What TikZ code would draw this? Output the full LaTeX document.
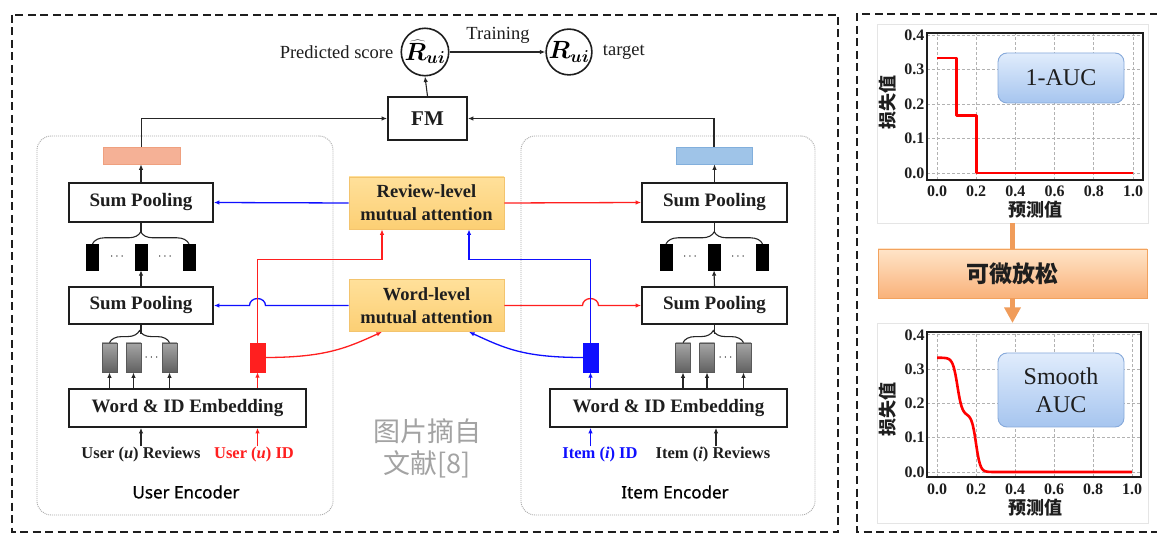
\documentclass[tikz,border=0pt]{standalone}
\usepackage{fontspec}
\setmainfont{Liberation Serif}
\newfontfamily\cjk{Noto Sans CJK SC}
\newfontfamily\labfont[FakeBold=0.7]{Noto Sans}
\usepackage{bm}
\usetikzlibrary{arrows.meta,calc,decorations.pathreplacing}
\definecolor{ured}{HTML}{FF1F1F}
\definecolor{ublue}{HTML}{0F0FFF}
\definecolor{salm}{HTML}{F5B196}
\definecolor{salmD}{HTML}{EFA07F}
\definecolor{lblue}{HTML}{9FC4E8}
\definecolor{lblueD}{HTML}{82AFDC}
\definecolor{attT}{HTML}{FFE09A}
\definecolor{attB}{HTML}{FCCF74}
\definecolor{attD}{HTML}{F3C46E}
\definecolor{orT}{HTML}{FFE4C8}
\definecolor{orB}{HTML}{F9B27A}
\definecolor{orD}{HTML}{F2A25E}
\definecolor{orA}{HTML}{F09C5A}
\definecolor{bxT}{HTML}{E0ECFC}
\definecolor{bxB}{HTML}{A6C5EF}
\definecolor{bxD}{HTML}{86A9DA}
\definecolor{wmgray}{HTML}{A3A3A3}
\definecolor{encgray}{HTML}{ABABAB}
\definecolor{ink}{HTML}{1E1E1E}
\tikzset{
  outerframe/.style={draw=ink, line width=2.2pt, dash pattern=on 8pt off 4.5pt},
  enc/.style={draw=encgray, line width=0.9pt, dash pattern=on 1pt off 1pt, rounded corners=14pt, inner sep=0pt},
  enclab/.style={font=\labfont\fontsize{17}{17}\selectfont, text=black, inner sep=1pt},
  box/.style={draw=ink, line width=1.7pt, fill=white, inner sep=0pt, text=ink, font=\bfseries\fontsize{19}{20}\selectfont},
  att/.style={draw=attD, line width=0.8pt, top color=attT, bottom color=attB, inner sep=0pt, align=center, text=ink, font=\bfseries\fontsize{18.5}{23}\selectfont, minimum width=155pt, minimum height=52pt},
  blk/.style={fill=black, draw=black, inner sep=0pt, minimum width=12pt, minimum height=26pt},
  gry/.style={draw=black!65, line width=0.8pt, top color=black!35, bottom color=black!62, inner sep=0pt, minimum width=15pt, minimum height=29pt},
  ln/.style={draw=black!85, line width=1.1pt},
  arr/.style={ln, -{Latex[length=5.5pt,width=4.5pt]}},
  rarr/.style={arr, draw=ured, line width=1.3pt},
  barr/.style={arr, draw=ublue, line width=1.3pt},
  brc/.style={ln, decorate, decoration={brace, amplitude=12pt}},
  inp/.style={font=\bfseries\fontsize{16.5}{17}\selectfont, inner sep=1pt, text=ink},
  lbl/.style={font=\fontsize{18.5}{19}\selectfont, inner sep=1pt, text=ink},
  dotz/.style={font=\fontsize{13}{13}\selectfont, inner sep=0pt},
  circ/.style={circle, draw=ink, line width=1.6pt, minimum size=45pt, inner sep=0pt, font=\fontsize{23}{23}\selectfont},
  panel/.style={fill=white, draw=black!10, line width=0.6pt, inner sep=0pt},
  grd/.style={draw=black!30, line width=0.7pt, dash pattern=on 3pt off 2pt},
  tk/.style={font=\bfseries\fontsize{16}{16}\selectfont, inner sep=1pt, text=ink},
  cjkl/.style={font=\cjk\bfseries\fontsize{18}{18}\selectfont, text=ink, inner sep=0pt},
  aucbox/.style={top color=bxT, bottom color=bxB, draw=bxD, line width=0.9pt, rounded corners=9pt, align=center, inner sep=0pt, text=ink, font=\fontsize{24}{28}\selectfont},
  rline/.style={draw=red, line width=2.6pt, line join=round},
}
\begin{document}
\begin{tikzpicture}[x=1pt,y=-1pt]
\useasboundingbox (0,0) rectangle (1157,534);
\fill[white] (0,0) rectangle (1157,534);

% outer frames
\draw[outerframe] (12,15) rectangle (838,532);
\draw[outerframe] (1170,14) -- (857,14) -- (857,532) -- (1170,532);

% encoder regions
\node[enc, minimum width=296pt, minimum height=379pt] (uenc) at (185,325.5) {};
\node[enc, minimum width=294pt, minimum height=379pt] (ienc) at (668,325.5) {};
\node[enclab] (uencl) at (186,492) {User Encoder};
\node[enclab] (iencl) at (675,492) {Item Encoder};

% watermark
\node[font=\cjk\fontsize{27}{32}\selectfont, text=wmgray, align=center, inner sep=0pt] (wm) at (427,448) {图片摘自\\文献[8]};

% top
\node[circ] (rhat) at (425,52) {$\bm{\widehat{R}_{ui}}$};
\node[circ] (rt) at (569,52) {$\bm{R_{ui}}$};
\node[lbl, anchor=east] (ps) at ([xshift=-6pt]rhat.west) {Predicted score};
\node[lbl, anchor=west] (tg) at ([xshift=9pt]rt.east) {target};
\draw[arr] (rhat) -- (rt);
\node[lbl] (tr) at (498,35) {Training};
\node[box, minimum width=79pt, minimum height=43pt, font=\bfseries\fontsize{21}{21}\selectfont] (fm) at (427.5,118.5) {FM};
\draw[arr] (fm.north) -- (rhat.south);

% user encoder
\node[draw=salmD, fill=salm, line width=0.6pt, minimum width=77pt, minimum height=17pt, inner sep=0pt] (ubar) at (141.5,155.5) {};
\node[box, minimum width=144pt, minimum height=39pt] (usp1) at (141,202.5) {Sum Pooling};
\node[box, minimum width=144pt, minimum height=37pt] (usp2) at (141,305.5) {Sum Pooling};
\node[box, minimum width=237pt, minimum height=38pt] (uemb) at (187.5,408) {Word \& ID Embedding};
\node[blk] (ub1) at (92.5,257) {};
\node[blk] (ub2) at (141,257) {};
\node[blk] (ub3) at (189,257) {};
\node[dotz] (ud1) at (117,257) {$\cdots$};
\node[dotz] (ud2) at (165,257) {$\cdots$};
\node[gry] (ug1) at (109.5,357.5) {};
\node[gry] (ug2) at (133.5,357.5) {};
\node[gry] (ug3) at (169.5,357.5) {};
\node[dotz] (ud3) at (151.5,357.5) {$\cdots$};
\node[fill=ured, draw=ured, inner sep=0pt, minimum width=15pt, minimum height=29pt] (uid) at (257.5,357.5) {};
\node[inp] (urev) at (141,455) {User (\textit{u}) Reviews};
\node[inp, text=ured] (uidt) at (254,455) {User (\textit{u}) ID};

% item encoder
\node[draw=lblueD, fill=lblue, line width=0.6pt, minimum width=76pt, minimum height=17pt, inner sep=0pt] (ibar) at (714,155.5) {};
\node[box, minimum width=145pt, minimum height=39pt] (isp1) at (714.5,202.5) {Sum Pooling};
\node[box, minimum width=145pt, minimum height=37pt] (isp2) at (714.5,305.5) {Sum Pooling};
\node[box, minimum width=237pt, minimum height=38pt] (iemb) at (668.5,408) {Word \& ID Embedding};
\node[blk] (ib1) at (666,257) {};
\node[blk] (ib2) at (714,257) {};
\node[blk] (ib3) at (762.5,257) {};
\node[dotz] (id1) at (690,257) {$\cdots$};
\node[dotz] (id2) at (738,257) {$\cdots$};
\node[gry] (ig1) at (683,357.5) {};
\node[gry] (ig2) at (707,357.5) {};
\node[gry] (ig3) at (743.5,357.5) {};
\node[dotz] (id3) at (725.5,357.5) {$\cdots$};
\node[fill=ublue, draw=ublue, inner sep=0pt, minimum width=15pt, minimum height=29pt] (iid) at (590.5,357.5) {};
\node[inp, text=ublue] (iidt) at (600,455) {Item (\textit{i}) ID};
\node[inp] (irev) at (713,455) {Item (\textit{i}) Reviews};

% attention
\node[att] (revA) at (426.5,203) {Review-level\\mutual attention};
\node[att] (wordA) at (426.5,305.5) {Word-level\\mutual attention};

% black connectors
\draw[arr] (ubar.north) |- (fm.west);
\draw[arr] (ibar.north) |- (fm.east);
\draw[arr] (usp1.north) -- (usp1.north |- ubar.south);
\draw[arr] (isp1.north) -- (isp1.north |- ibar.south);
\draw[arr] (usp2.north) -- (ub2.south);
\draw[arr] (isp2.north) -- (ib2.south);
\draw[brc] (ub1.north) -- (ub3.north);
\draw[brc] (ib1.north) -- (ib3.north);
\draw[brc] (ug1.north) -- (ug3.north);
\draw[brc] (ig1.north) -- (ig3.north);
\draw[ln] (usp1.south) -- ++(0,10);
\draw[ln] (isp1.south) -- ++(0,10);
\draw[ln] (usp2.south) -- ++(0,9);
\draw[ln] (isp2.south) -- ++(0,9);
\foreach \v in {ug1,ug2,ug3,ig1,ig2,ig3} \draw[arr] (\v |- uemb.north) -- (\v.south);
\draw[rarr] (uid |- uemb.north) -- (uid.south);
\draw[barr] (iid |- iemb.north) -- (iid.south);
\draw[arr] (urev.north) -- (urev.north |- uemb.south);
\draw[arr] ([xshift=3pt]irev.north) -- ([xshift=3pt]irev.north |- iemb.south);
\draw[rarr] (uidt.north -| uid) -- (uid |- uemb.south);
\draw[barr] (iidt.north -| iid) -- (iid |- iemb.south);

% attention connectors
\draw[barr] (revA.west) -- (usp1.east);
\draw[rarr] (revA.east) -- (isp1.west);
\draw[barr] (wordA.west) -- ($(uid.center |- wordA.west)+(8,0)$) arc[start angle=0, end angle=180, x radius=8pt, y radius=7pt] -- (usp2.east);
\draw[rarr] (wordA.east) -- ($(iid.center |- wordA.east)+(-8,0)$) arc[start angle=180, end angle=0, x radius=8pt, y radius=7pt] -- (isp2.west);
\coordinate (ra) at ($(revA.south)+(-44.5,30)$);
\coordinate (rb) at ($(revA.south)+(42.5,30)$);
\draw[rarr] (uid.north) |- (ra) -- (ra |- revA.south);
\draw[barr] (iid.north) |- (rb) -- (rb |- revA.south);
\coordinate (wa) at ($(wordA.south)+(-44.5,0)$);
\coordinate (wb) at ($(wordA.south)+(42.5,0)$);
\draw[rarr] (uid.east) .. controls +(60,0) and +(-35,16) .. (wa);
\draw[barr] (iid.west) .. controls +(-60,0) and +(35,16) .. (wb);

% right panel
\node[panel, minimum width=271pt, minimum height=199pt] (p1) at (1012.5,123.5) {};
\node[panel, minimum width=271pt, minimum height=200pt] (p2) at (1012.5,423) {};
\node[top color=orT, bottom color=orB, draw=orD, line width=0.9pt, minimum width=269pt, minimum height=49pt, inner sep=0pt, text=ink, font=\cjk\bfseries\fontsize{23}{23}\selectfont] (relax) at (1012.5,273.5) {可微放松};
\draw[draw=orA, line width=5pt] (p1.south -| relax) -- (relax.north);
\draw[draw=orA, line width=5pt] (relax.south) -- ++(0,10);
\fill[orA] ($(relax.south)+(-8.5,9)$) -- ($(relax.south)+(8.5,9)$) -- (p2.north) -- cycle;

% top plot
\begin{scope}[shift={(937,173)}, x=196pt, y=345pt]
  \foreach \gx in {0,0.2,0.4,0.6,0.8,1} \draw[grd] (\gx,-0.02) -- (\gx,0.406);
  \foreach \gy in {0,0.1,0.2,0.3,0.4} \draw[grd] (-0.051,\gy) -- (1.051,\gy);
  \draw[rline] (0,0.3333) -- (0.1,0.3333) -- (0.1,0.1667) -- (0.2,0.1667) -- (0.2,0) -- (1,0);
  \draw[draw=ink, line width=1.6pt] (-0.051,-0.02) rectangle (1.051,0.406);
  \foreach \gy/\t in {0/0.0,0.1/0.1,0.2/0.2,0.3/0.3,0.4/0.4} \node[tk, anchor=east] at (-0.058,\gy) {\t};
  \foreach \gx/\t in {0/0.0,0.2/0.2,0.4/0.4,0.6/0.6,0.8/0.8,1/1.0} \node[tk] at (\gx,-0.052) {\t};
\end{scope}
\node[cjkl, rotate=90] (yl1) at (888,103) {损失值};
\node[cjkl] (xl1) at (1035,210) {预测值};
\node[aucbox, minimum width=126pt, minimum height=50pt] (auc1) at (1061,78) {1-AUC};

% bottom plot
\begin{scope}[shift={(937,472)}, x=195pt, y=343pt]
  \foreach \gx in {0,0.2,0.4,0.6,0.8,1} \draw[grd] (\gx,-0.0146) -- (\gx,0.408);
  \foreach \gy in {0,0.1,0.2,0.3,0.4} \draw[grd] (-0.051,\gy) -- (1.046,\gy);
  \draw[rline] plot[domain=0:1, samples=200, smooth] (\x, {(1/6)/(1+exp(min((\x-0.105)/0.012,9))) + (1/6)/(1+exp(min((\x-0.2)/0.011,9)))});
  \draw[draw=ink, line width=1.6pt] (-0.051,-0.0146) rectangle (1.046,0.408);
  \foreach \gy/\t in {0/0.0,0.1/0.1,0.2/0.2,0.3/0.3,0.4/0.4} \node[tk, anchor=east] at (-0.058,\gy) {\t};
  \foreach \gx/\t in {0/0.0,0.2/0.2,0.4/0.4,0.6/0.6,0.8/0.8,1/1.0} \node[tk] at (\gx,-0.05) {\t};
\end{scope}
\node[cjkl, rotate=90] (yl2) at (888,410) {损失值};
\node[cjkl] (xl2) at (1035,508) {预测值};
\node[aucbox, minimum width=126pt, minimum height=74pt] (auc2) at (1061,390) {Smooth\\AUC};
\end{tikzpicture}
\end{document}
